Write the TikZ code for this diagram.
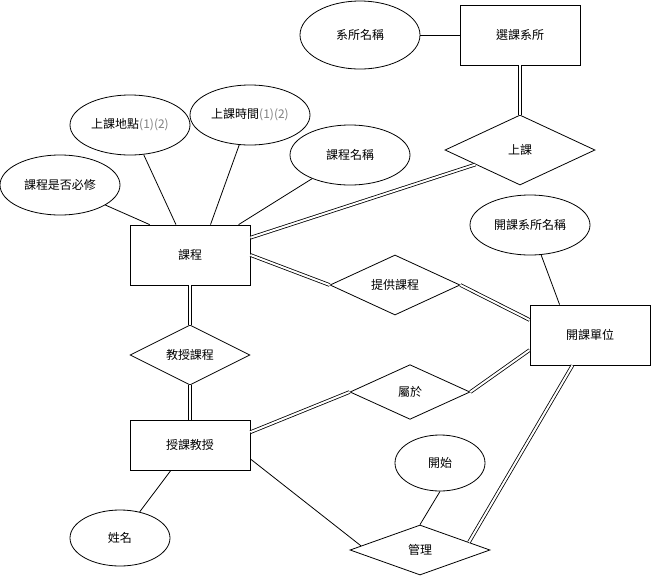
\documentclass[tikz,border=0pt]{standalone}
\usepackage{fontspec}
\newfontfamily\cjk{Noto Sans CJK TC}
\usetikzlibrary{shapes.geometric}

\begin{document}
\begin{tikzpicture}[x=0.75pt,y=-0.75pt,line width=0.6pt,
  every node/.style={font=\cjk\fontsize{9}{11}\selectfont,draw,line width=0.6pt,inner sep=0pt},
  entity/.style={rectangle,minimum width=90pt,minimum height=45pt},
  attr/.style={ellipse,minimum width=90pt,minimum height=45pt},
  rel/.style={diamond,minimum width=90pt,minimum height=45pt},
  dbl/.style={double,double distance=1.5pt}]
\useasboundingbox (0,0) rectangle (651,576);
% entities, relations, attributes
\node[attr,minimum height=51pt] (deptname) at (360,35) {系所名稱};
\node[entity] (dept) at (520,35) {選課系所};
\node[rel,minimum width=112.5pt,minimum height=52.5pt] (attend) at (520,150) {上課};
\node[attr] (cname) at (350,155) {課程名稱};
\node[attr] (uname) at (530,225) {開課系所名稱};
\node[attr] (place) at (130,125) {上課地點{\color{gray}(1)(2)}};
\node[attr] (time) at (250,115) {上課時間{\color{gray}(1)(2)}};
\node[attr] (required) at (60,185) {課程是否必修};
\node[entity] (course) at (190,255) {課程};
\node[rel,minimum width=97.5pt] (offer) at (395,285) {提供課程};
\node[rel] (teach) at (190,355) {教授課程};
\node[entity,minimum height=37.5pt] (prof) at (190,445) {授課教授};
\node[attr,minimum width=75pt,minimum height=42pt] (name) at (120,538) {姓名};
\node[entity] (unit) at (590,335) {開課單位};
\node[rel,minimum height=41pt] (belong) at (410,392) {屬於};
\node[attr,minimum width=67.5pt,minimum height=42pt] (start) at (440,463) {開始};
\node[rel,minimum width=105pt,minimum height=37.5pt] (manage) at (420,550) {管理};
% connectors
\draw (deptname) -- (dept);
\draw[dbl] (dept) -- (attend);
\draw[dbl] (attend) -- (course.16);
\draw (required) -- (course.143);
\draw (place) -- (course);
\draw (time) -- (course.56);
\draw (cname) -- (course);
\draw[dbl] (course.east) -- (offer.west);
\draw[dbl] (offer.east) -- (unit.166);
\draw (uname) -- (unit.135);
\draw[dbl] (course) -- (teach);
\draw[dbl] (teach) -- (prof);
\draw[dbl] (unit.194) -- (belong.east);
\draw[dbl] (belong.west) -- (prof.12);
\draw (prof) -- (name);
\draw (prof.-13) -- (manage.176);
\draw (start.south) -- (manage.north);
\draw[dbl] (manage.9) -- (unit.240);
\end{tikzpicture}
\end{document}
